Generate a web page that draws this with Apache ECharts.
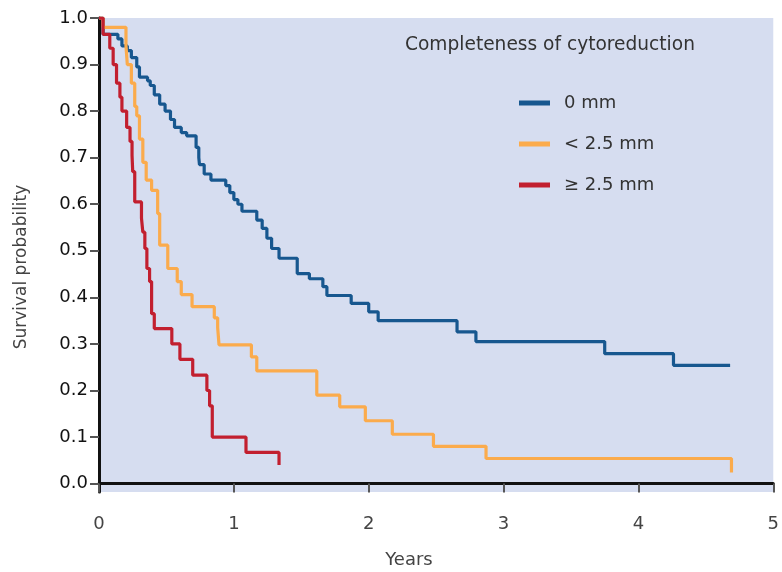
<!DOCTYPE html>
<html>
<head>
<meta charset="utf-8">
<script src="https://cdn.jsdelivr.net/npm/echarts@6/dist/echarts.min.js"></script>
<style>html,body{margin:0;padding:0;background:#fff}#c{width:782px;height:572px}</style>
</head>
<body>
<div id="c"></div>
<script>
const seriesNames = ['0 mm', '< 2.5 mm', '\u2265 2.5 mm'];
const legendTitle = 'Completeness of cytoreduction';
const xAxisTitle = 'Years';
const yAxisTitle = 'Survival probability';
const xTicks = [0, 1, 2, 3, 4, 5];
const yTicks = [0, 0.1, 0.2, 0.3, 0.4, 0.5, 0.6, 0.7, 0.8, 0.9, 1.0];

const curve0mm = [
  [0,1.0],[0.03,0.965],[0.14,0.955],[0.17,0.94],[0.21,0.93],[0.24,0.915],[0.28,0.895],[0.30,0.873],
  [0.36,0.865],[0.38,0.855],[0.41,0.835],[0.45,0.815],[0.49,0.80],[0.53,0.782],[0.56,0.765],
  [0.61,0.754],[0.65,0.747],[0.72,0.722],[0.74,0.70],[0.745,0.685],[0.78,0.665],[0.83,0.652],
  [0.94,0.64],[0.97,0.625],[1.0,0.61],[1.03,0.60],[1.06,0.585],[1.17,0.566],[1.21,0.548],
  [1.245,0.527],[1.28,0.505],[1.335,0.484],[1.47,0.451],[1.56,0.44],[1.66,0.423],[1.69,0.404],
  [1.87,0.387],[2.0,0.369],[2.07,0.35],[2.655,0.326],[2.795,0.305],[3.75,0.279],[4.26,0.254],[4.68,0.254]
];
const curveLt25 = [
  [0,1.0],[0.03,0.98],[0.2,0.94],[0.21,0.90],[0.24,0.86],[0.265,0.81],[0.28,0.79],[0.30,0.74],
  [0.325,0.69],[0.35,0.652],[0.39,0.63],[0.435,0.58],[0.45,0.512],[0.51,0.462],[0.58,0.434],
  [0.61,0.406],[0.69,0.38],[0.855,0.356],[0.88,0.335],[0.89,0.298],[1.13,0.272],[1.17,0.242],
  [1.615,0.19],[1.785,0.165],[1.975,0.135],[2.175,0.106],[2.48,0.08],[2.87,0.054],[4.69,0.024]
];
const curveGe25 = [
  [0,1.0],[0.03,0.965],[0.08,0.935],[0.105,0.90],[0.13,0.86],[0.155,0.83],[0.17,0.80],
  [0.205,0.765],[0.23,0.735],[0.245,0.705],[0.25,0.67],[0.265,0.605],[0.315,0.57],[0.325,0.54],
  [0.34,0.505],[0.355,0.462],[0.375,0.434],[0.39,0.365],[0.41,0.333],[0.54,0.30],[0.60,0.267],
  [0.695,0.233],[0.80,0.20],[0.82,0.167],[0.84,0.10],[1.09,0.067],[1.335,0.04]
];
const colors = ['#17578f', '#fbab4c', '#c21f2f'];

const font = '"DejaVu Sans", Verdana, sans-serif';
const chart = echarts.init(document.getElementById('c'));
const mk = (name, data, color) => ({
  name, type: 'line', step: 'end', data, showSymbol: false, symbol: 'none',
  lineStyle: { color, width: 3.2 }, itemStyle: { color }, animation: false
});
chart.setOption({
  animation: false,
  textStyle: { fontFamily: font },
  grid: { left: 99, right: 5, top: 18, bottom: 80, show: true, backgroundColor: '#d6ddf0', borderWidth: 0 },
  xAxis: {
    type: 'value', min: 0, max: 5, interval: 1,
    axisLine: { show: true, lineStyle: { color: '#111', width: 3 } },
    axisTick: { show: true, length: 9, lineStyle: { color: '#555', width: 2 } },
    axisLabel: { color: '#444', fontSize: 18, margin: 23, fontFamily: font,
      customValues: xTicks },
    splitLine: { show: false }
  },
  yAxis: {
    type: 'value', min: -0.018, max: 1.0,
    axisLine: { show: true, lineStyle: { color: '#111', width: 3 } },
    axisTick: { show: true, length: 9, lineStyle: { color: '#555', width: 2 }, customValues: yTicks },
    axisLabel: { color: '#111', fontSize: 18, margin: 11, fontFamily: font,
      customValues: yTicks, formatter: v => v.toFixed(1) },
    splitLine: { show: false }
  },
  legend: {
    orient: 'vertical', left: 519, top: 94, padding: 0, itemWidth: 31, itemHeight: 5, itemGap: 23,
    icon: 'rect', data: seriesNames,
    textStyle: { color: '#333', fontSize: 18, fontFamily: font, padding: [0, 0, 0, 9] }
  },
  graphic: [
    { type: 'text', left: 405, top: 36,
      style: { text: legendTitle, fill: '#333', fontSize: 18.6, fontFamily: font } },
    { type: 'text', x: 409, y: 560,
      style: { text: xAxisTitle, fill: '#444', fontSize: 18, fontFamily: font, textAlign: 'center', textVerticalAlign: 'middle' } },
    { type: 'text', x: 22, y: 267, rotation: Math.PI / 2,
      style: { text: yAxisTitle, fill: '#444', fontSize: 17, fontFamily: font, textAlign: 'center', textVerticalAlign: 'middle' } }
  ],
  series: [
    mk(seriesNames[0], curve0mm, colors[0]),
    mk(seriesNames[1], curveLt25, colors[1]),
    mk(seriesNames[2], curveGe25, colors[2])
  ]
});
</script>
</body>
</html>
